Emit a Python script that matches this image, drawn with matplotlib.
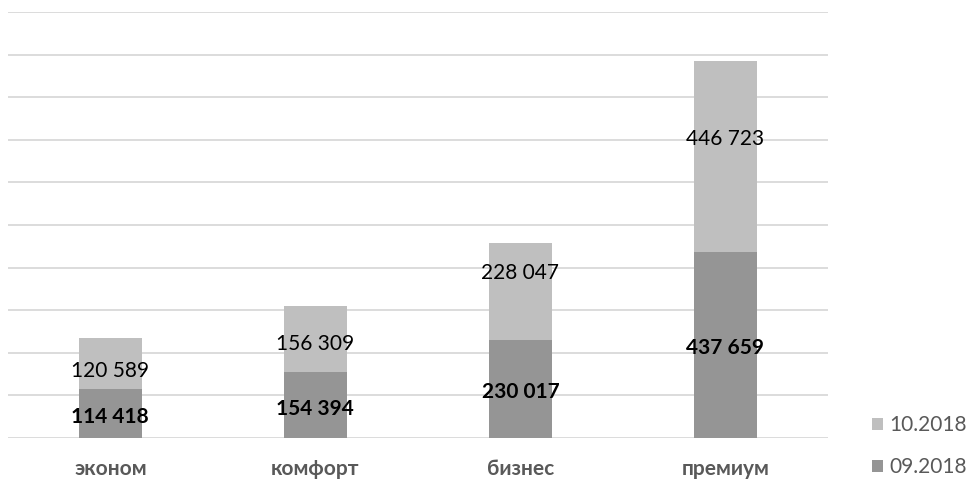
import matplotlib.pyplot as plt
import numpy as np

plt.rcParams['font.family'] = ['Lato', 'DejaVu Sans']

categories = ['эконом', 'комфорт', 'бизнес', 'премиум']
sep_2018 = [114418, 154394, 230017, 437659]
oct_2018 = [120589, 156309, 228047, 446723]
series_names = ['09.2018', '10.2018']

# where the upper labels sit inside their segment (share of height from the top)
upper_label_pos = [0.57, 0.53, 0.27, 0.39]


def fmt(v):
    return f'{v:,}'.replace(',', ' ')


fig = plt.figure(figsize=(9.73, 4.79), dpi=100)
ax = fig.add_axes([0.008, 0.0856, 0.843, 0.889])

x = np.arange(len(categories))
w = 0.31
b1 = ax.bar(x, sep_2018, w, color='#959595', label=series_names[0], zorder=2)
b2 = ax.bar(x, oct_2018, w, bottom=sep_2018, color='#BFBFBF', label=series_names[1], zorder=2)

for i in range(len(categories)):
    ax.annotate(fmt(sep_2018[i]), (x[i], sep_2018[i] / 2), xytext=(0, -2.5),
                textcoords='offset points', ha='center', va='center',
                fontsize=15, fontweight='bold', color='black', zorder=3)
    y_up = sep_2018[i] + oct_2018[i] * (1 - upper_label_pos[i])
    ax.annotate(fmt(oct_2018[i]), (x[i], y_up), xytext=(0, -2.5),
                textcoords='offset points', ha='center', va='center',
                fontsize=15, color='black', zorder=3)

ax.set_xlim(-0.5, 3.5)
ax.set_ylim(0, 1000000)
ax.set_yticks(np.arange(0, 1000001, 100000))
ax.yaxis.grid(True, color='#D9D9D9', linewidth=1.3, zorder=0)
ax.set_yticklabels([])
ax.tick_params(length=0)
ax.set_xticks(x)
ax.set_xticklabels(categories, fontsize=15, fontweight='bold', color='#595959')
ax.tick_params(axis='x', pad=15)
for s in ax.spines.values():
    s.set_visible(False)

handles = [b2, b1]
fig.legend(handles, [series_names[1], series_names[0]], loc='lower left',
           bbox_to_anchor=(0.881, -0.027), frameon=False, fontsize=15,
           labelcolor='#595959', handlelength=0.55, handleheight=0.55,
           handletextpad=0.3, labelspacing=1.05, borderpad=0.2)

fig.savefig('out.png', dpi=100)
